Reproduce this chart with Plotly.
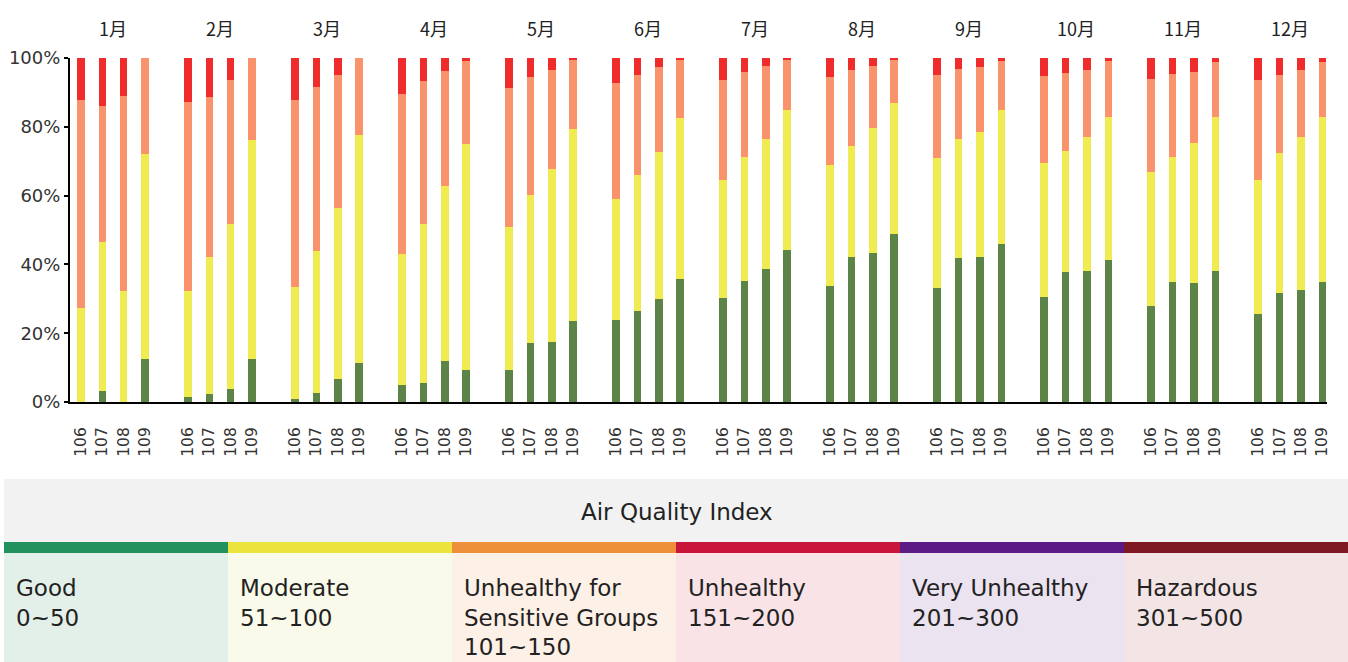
import plotly.graph_objects as go

W, H = 1348, 662

months = ["1月", "2月", "3月", "4月", "5月", "6月", "7月", "8月", "9月", "10月", "11月", "12月"]
years = ["106", "107", "108", "109"]

# share (%) of days per AQI class, per month, for years 106..109
good = [
    [0.0, 3.1, 0.0, 12.4], [1.4, 2.2, 3.7, 12.6], [0.9, 2.6, 6.6, 11.2], [5.0, 5.5, 11.9, 9.4],
    [9.4, 17.2, 17.5, 23.5], [23.8, 26.4, 29.9, 35.9], [30.3, 35.1, 38.8, 44.2], [33.6, 42.2, 43.2, 48.7],
    [33.2, 42.0, 42.2, 45.9], [30.6, 37.7, 38.2, 41.3], [27.9, 34.8, 34.5, 38.0], [25.5, 31.7, 32.5, 34.8],
]
moderate = [
    [27.2, 43.5, 32.3, 59.6], [30.9, 40.0, 48.0, 63.6], [32.6, 41.3, 49.7, 66.5], [37.9, 46.2, 50.9, 65.6],
    [41.4, 43.1, 50.1, 55.8], [35.2, 39.6, 42.8, 46.8], [34.3, 36.0, 37.8, 40.7], [35.2, 32.3, 36.4, 38.2],
    [37.6, 34.6, 36.4, 38.9], [38.8, 35.4, 38.7, 41.6], [39.1, 36.3, 40.9, 44.9], [39.1, 40.8, 44.4, 48.0],
]
sensitive = [
    [60.7, 39.5, 56.8, 28.0], [54.8, 46.4, 42.0, 23.8], [54.2, 47.6, 38.8, 22.3], [46.6, 41.5, 33.5, 24.0],
    [40.4, 34.1, 29.0, 20.0], [33.6, 29.2, 24.6, 16.8], [28.9, 24.7, 21.2, 14.6], [25.7, 21.9, 18.2, 12.6],
    [24.2, 20.3, 18.8, 14.2], [25.3, 22.5, 19.5, 16.1], [27.0, 24.2, 20.6, 16.0], [29.1, 22.6, 19.7, 16.1],
]
unhealthy = [
    [12.1, 13.9, 10.9, 0.0], [12.9, 11.4, 6.3, 0.0], [12.3, 8.5, 4.9, 0.0], [10.5, 6.8, 3.7, 1.0],
    [8.8, 5.6, 3.4, 0.7], [7.4, 4.8, 2.7, 0.5], [6.5, 4.2, 2.2, 0.5], [5.5, 3.6, 2.2, 0.5],
    [5.0, 3.1, 2.6, 1.0], [5.3, 4.4, 3.6, 1.0], [6.0, 4.7, 4.0, 1.1], [6.3, 4.9, 3.4, 1.1],
]
series_names = ["Good", "Moderate", "Unhealthy for Sensitive Groups", "Unhealthy"]
bar_colors = ["#5b8446", "#f0eb50", "#f9936c", "#f02b2b"]
y_ticks = [0, 20, 40, 60, 80, 100]
y_ticktext = ["0%", "20%", "40%", "60%", "80%", "100%"]

aqi_labels = [["Good", "0~50"], ["Moderate", "51~100"],
              ["Unhealthy for", "Sensitive Groups", "101~150"],
              ["Unhealthy", "151~200"], ["Very Unhealthy", "201~300"], ["Hazardous", "301~500"]]
aqi_stripe = ["#22915d", "#ebe43c", "#ee8f3a", "#c9153a", "#5c1a87", "#7f1a25"]
aqi_bg = ["#e3f0ea", "#fafaea", "#fdf0e6", "#f9e3e6", "#ece3f0", "#f3e4e5"]

FONT = "DejaVu Sans, Liberation Sans, Arial"
GROUP = 5  # slots per month (4 bars + gap)
xs, xt = [], []
for i in range(len(months)):
    for j in range(len(years)):
        xs.append(i * GROUP + j)
        xt.append(years[j])

def flat(a):
    return [v for row in a for v in row]

fig = go.Figure()
for name, data, col in zip(series_names, [good, moderate, sensitive, unhealthy], bar_colors):
    fig.add_trace(go.Bar(x=xs, y=flat(data), name=name, width=0.35,
                         marker=dict(color=col, line=dict(width=0)), showlegend=False))

def px(x):
    return x / W

def py(y):
    return 1 - y / H

shapes, annotations = [], []
shapes.append(dict(type="rect", xref="paper", yref="paper", x0=px(4), x1=1, y0=py(542), y1=py(479),
                   fillcolor="#f2f2f2", line=dict(width=0), layer="below"))
col_w = (W - 4) / 6
for k in range(6):
    x0 = 4 + k * col_w
    x1 = x0 + col_w
    shapes.append(dict(type="rect", xref="paper", yref="paper", x0=px(x0), x1=px(x1), y0=py(553), y1=py(542),
                       fillcolor=aqi_stripe[k], line=dict(width=0), layer="below"))
    shapes.append(dict(type="rect", xref="paper", yref="paper", x0=px(x0), x1=px(x1), y0=0, y1=py(553),
                       fillcolor=aqi_bg[k], line=dict(width=0), layer="below"))
    for li, line in enumerate(aqi_labels[k]):
        annotations.append(dict(xref="paper", yref="paper", x=px(x0 + 10), y=py(588 + li * 29.5),
                                xanchor="left", yanchor="middle", text=line, showarrow=False,
                                font=dict(family=FONT, size=23, color="#222")))
annotations.append(dict(xref="paper", yref="paper", x=px(677), y=py(512), xanchor="center", yanchor="middle",
                        text="Air Quality Index", showarrow=False,
                        font=dict(family=FONT, size=23, color="#222")))
for i, m in enumerate(months):
    annotations.append(dict(xref="x", yref="paper", x=i * GROUP + 1.5, y=py(28), xanchor="center",
                            yanchor="middle", text=m, showarrow=False,
                            font=dict(family="Noto Sans CJK SC", size=18, color="#222")))

fig.update_layout(
    width=W, height=H, autosize=False, margin=dict(l=0, r=0, t=0, b=0, pad=0),
    paper_bgcolor="white", plot_bgcolor="white", barmode="stack", bargap=0,
    shapes=shapes, annotations=annotations,
    xaxis=dict(domain=[px(70), px(1327)], range=[-0.51, 58.22], tickmode="array", tickvals=xs, ticktext=xt,
               tickangle=-90, tickfont=dict(family=FONT, size=15.5, color="#333"),
               showline=True, linecolor="black", linewidth=2, ticks="", showgrid=False, zeroline=False,
               ticklabelstandoff=17, automargin=False),
    yaxis=dict(domain=[py(402), py(58)], range=[0, 100], tickmode="array", tickvals=y_ticks,
               ticktext=y_ticktext,
               tickfont=dict(family=FONT, size=18, color="#333"),
               showline=True, linecolor="black", linewidth=2, ticks="outside", ticklen=4, tickwidth=2,
               tickcolor="black", showgrid=False, zeroline=False, ticklabelstandoff=0, automargin=False),
    yaxis2=dict(overlaying="y", anchor="x", side="left", range=[0, 100], tickmode="array", tickvals=y_ticks,
                showticklabels=False, ticks="inside", ticklen=3, tickwidth=2, tickcolor="black",
                showline=False, showgrid=False, zeroline=False),
)

fig.write_html("out.html", config={"displayModeBar": False},
               post_script="document.body.style.margin='0';document.body.style.padding='0';"
                           "document.body.style.overflow='hidden';")
